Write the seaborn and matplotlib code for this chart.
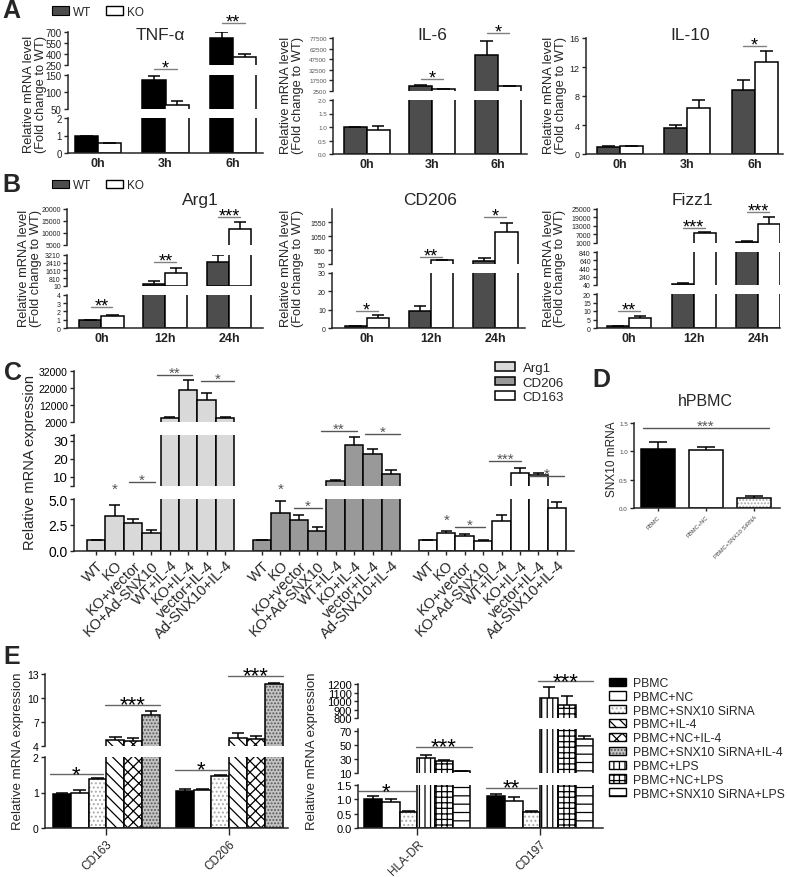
import numpy as np
import pandas as pd
import matplotlib
matplotlib.use('Agg')
import matplotlib.pyplot as plt
from matplotlib.patches import Patch
from matplotlib.colors import to_rgba
from matplotlib.transforms import blended_transform_factory
import seaborn as sns

# ---------------- data ----------------
times_a = ['0h', '3h', '6h']
times_b = ['0h', '12h', '24h']
genos = ['WT', 'KO']

# A: relative mRNA level (fold change to WT)
tnf_wt, tnf_wt_err = [1.0, 135, 620], [0.0, 12, 80]
tnf_ko, tnf_ko_err = [0.55, 62, 360], [0.03, 12, 45]
il6_wt, il6_wt_err = [1.0, 10000, 53800], [0.0, 1500, 19000]
il6_ko, il6_ko_err = [0.88, 4900, 9000], [0.17, 300, 1000]
il10_wt, il10_wt_err = [1.0, 3.6, 8.8], [0.05, 0.4, 1.4]
il10_ko, il10_ko_err = [1.05, 6.4, 12.7], [0.1, 1.0, 1.5]

# B
arg1_wt, arg1_wt_err = [1.0, 150, 2500], [0.0, 300, 700]
arg1_ko, arg1_ko_err = [1.5, 1330, 11800], [0.1, 520, 2600]
cd206_wt, cd206_wt_err = [1.0, 9.4, 170], [0.1, 2.4, 90]
cd206_ko, cd206_ko_err = [5.4, 180, 1200], [1.5, 15, 340]
fizz1_wt, fizz1_wt_err = [1.0, 70, 1900], [0.1, 30, 500]
fizz1_ko, fizz1_ko_err = [5.7, 7700, 14300], [1.2, 700, 5000]

# C
c_conds = ['WT', 'KO', 'KO+vector', 'KO+Ad-SNX10', 'WT+IL-4', 'KO+IL-4',
           'vector+IL-4', 'Ad-SNX10+IL-4']
c_genes = ['Arg1', 'CD206', 'CD163']
c_arg1 = [1.0, 3.33, 2.7, 1.7, 4200, 20600, 14900, 4300]
c_arg1_err = [0.0, 1.1, 0.35, 0.3, 600, 5900, 4000, 500]
c_cd206 = [1.0, 3.65, 2.95, 1.95, 7.6, 27.5, 22.8, 11.5]
c_cd206_err = [0.0, 1.15, 0.55, 0.3, 0.5, 4.5, 2.8, 2.0]
c_cd163 = [1.0, 1.7, 1.45, 0.97, 2.9, 12.0, 11.1, 4.1]
c_cd163_err = [0.0, 0.2, 0.15, 0.1, 0.6, 2.6, 0.9, 0.65]

# D
d_groups = ['PBMC', 'PBMC+NC', 'PBMC+SNX10 SiRNA']
d_vals = [1.05, 1.03, 0.17]
d_err = [0.11, 0.05, 0.04]

# E
e_conds = ['PBMC', 'PBMC+NC', 'PBMC+SNX10 SiRNA', 'PBMC+IL-4', 'PBMC+NC+IL-4',
           'PBMC+SNX10 SiRNA+IL-4', 'PBMC+LPS', 'PBMC+NC+LPS', 'PBMC+SNX10 SiRNA+LPS']
e_left_genes = ['CD163', 'CD206']
e_cd163, e_cd163_err = [0.96, 1.0, 1.38, 4.7, 4.6, 7.8], [0.03, 0.06, 0.02, 0.35, 0.35, 0.6]
e_cd206, e_cd206_err = [1.05, 1.07, 1.47, 4.95, 4.85, 11.8], [0.06, 0.03, 0.03, 0.7, 0.35, 0.1]
e_right_genes = ['HLA-DR', 'CD197']
e_hladr, e_hladr_err = [1.0, 0.9, 0.57, 31.5, 27.8, 12.8], [0.12, 0.1, 0.03, 4, 1.5, 0.5]
e_cd197, e_cd197_err = [1.1, 0.95, 0.57, 1040, 960, 58], [0.08, 0.13, 0.02, 120, 100, 5]

# ---------------- styles ----------------
c_colors = ['#d9d9d9', '#999999', 'white']
e_faces = ['black', 'white', 'white', 'white', 'white', '#c4c4c4', 'white', 'white', 'white']
e_hatches = ['', '', '....', '\\\\\\', 'xxx', '.....', '|||', '+++', '--']
e_hcolors = [None, None, '#aaaaaa', None, None, '#555555', None, None, None]

sns.set_style('ticks')
plt.rcParams['font.family'] = ['Liberation Sans', 'DejaVu Sans']
plt.rcParams['axes.linewidth'] = 1.1
plt.rcParams['hatch.linewidth'] = 0.9
plt.rcParams['xtick.major.width'] = 1.0
plt.rcParams['ytick.major.width'] = 1.0
plt.rcParams['xtick.major.size'] = 3
plt.rcParams['ytick.major.size'] = 3
plt.rcParams['xtick.major.pad'] = 2
plt.rcParams['ytick.major.pad'] = 1.5

W, H = 787, 878
fig = plt.figure(figsize=(W / 100, H / 100), dpi=100)


def px(x0, y0, x1, y1):
    return [x0 / W, 1 - y1 / H, (x1 - x0) / W, (y1 - y0) / H]


def ftext(x, y, s, **kw):
    fig.text(x / W, 1 - y / H, s, **kw)


def set_hatch_color(p, c):
    if hasattr(p, 'set_hatchcolor'):
        p.set_hatchcolor(c)
    else:
        p._hatch_color = to_rgba(c)


def add_err(ax, errs, lo, frac=0.28, lw=1.1):
    # upper error bars only; skip the ones lying wholly below this segment
    pats = sorted(ax.patches, key=lambda p: p.get_x())
    xs = np.array([p.get_x() + p.get_width() / 2 for p in pats])
    hs = np.array([p.get_height() for p in pats])
    cw = np.array([p.get_width() * frac for p in pats])
    tops = hs + np.asarray(errs)
    for p in pats:
        if p.get_height() < lo:
            p.set_visible(False)
    keep = tops >= lo
    if keep.any():
        ax.vlines(xs[keep], np.maximum(hs[keep], lo), tops[keep], color='black', lw=lw)
        ax.hlines(tops[keep], (xs - cw)[keep], (xs + cw)[keep], color='black', lw=lw)


def pair_draw(times, wt, wt_err, ko, ko_err, wt_color, width):
    df = pd.DataFrame({'time': list(times) * 2,
                       'geno': ['WT'] * len(times) + ['KO'] * len(times),
                       'val': list(wt) + list(ko)})
    errs = [e for pair in zip(wt_err, ko_err) for e in pair]

    def draw(ax, lo):
        sns.barplot(data=df, x='time', y='val', hue='geno', order=times, hue_order=genos,
                    palette={'WT': wt_color, 'KO': 'white'}, width=width, saturation=1,
                    errorbar=None, edgecolor='black', linewidth=1.1, legend=False, ax=ax)
        add_err(ax, errs, lo)
    return draw


def native_draw(pos, vals, errs, faces, hatches=None, hcolors=None, width=1.0, frac=0.3):
    keys = [f'b{i}' for i in range(len(pos))]
    df = pd.DataFrame({'pos': pos, 'val': vals, 'key': keys})
    order = np.argsort(pos)

    def draw(ax, lo):
        sns.barplot(data=df, x='pos', y='val', hue='key', hue_order=keys,
                    palette=dict(zip(keys, faces)), native_scale=True, dodge=False,
                    width=width, saturation=1, errorbar=None, edgecolor='black',
                    linewidth=1.1, legend=False, ax=ax)
        pats = sorted(ax.patches, key=lambda p: p.get_x())
        if hatches is not None:
            for p, i in zip(pats, order):
                p.set_hatch(hatches[i])
                if hcolors is not None and hcolors[i] is not None:
                    set_hatch_color(p, hcolors[i])
        add_err(ax, [errs[i] for i in order], lo, frac=frac)
    return draw


def broken(x0, x1, segs, draw, xlim, fs, color='#222222'):
    """segs: (top_px, bottom_px, lo, hi, ticks, labels) from top to bottom"""
    axes = []
    for i, (t, b, lo, hi, ticks, labels) in enumerate(segs):
        ax = fig.add_axes(px(x0, t, x1, b))
        draw(ax, lo)
        ax.set_ylim(lo, hi)
        ax.set_xlim(*xlim)
        ax.set_yticks(ticks)
        ax.set_yticklabels(labels, fontsize=fs, color=color)
        ax.set_xlabel('')
        ax.set_ylabel('')
        ax.patch.set_alpha(0)
        ax.spines['top'].set_visible(False)
        ax.spines['right'].set_visible(False)
        if i < len(segs) - 1:
            ax.spines['bottom'].set_visible(False)
            ax.tick_params(axis='x', bottom=False, labelbottom=False)
        axes.append(ax)
    return axes


def sig(ax, xa, xb, y_line, text, fs, lcolor='#808080', tcolor='black', gap=7,
        line=True, weight='normal'):
    tr = blended_transform_factory(ax.transData, fig.transFigure)
    if line:
        ax.plot([xa, xb], [1 - y_line / H] * 2, transform=tr, color=lcolor, lw=1.0,
                clip_on=False)
    base = y_line - gap + 0.58 * fs / 0.72
    ax.text((xa + xb) / 2, 1 - base / H, text, transform=tr, ha='center', va='baseline',
            fontsize=fs, color=tcolor, fontweight=weight, clip_on=False)


def time_axis(ax, labels):
    ax.set_xticks(range(len(labels)))
    ax.set_xticklabels(labels, fontsize=9, fontweight='bold', color='#222222')
    ax.tick_params(axis='x', length=0, pad=3)


# ================= Panel A =================
ylab_ab = 'Relative mRNA level\n(Fold change to WT)'
axs = broken(68, 263, [(33, 66, 250, 700, [250, 400, 550, 700], ['250', '400', '550', '700']),
                       (76, 110, 50, 150, [50, 100, 150], ['50', '100', '150']),
                       (119, 154, 0, 2, [0, 1, 2], ['0', '1', '2'])],
             pair_draw(times_a, tnf_wt, tnf_wt_err, tnf_ko, tnf_ko_err, 'black', 0.68),
             (-0.44, 2.44), 7)
time_axis(axs[-1], times_a)
sig(axs[-1], 0.83, 1.17, 70, '*', 13)
sig(axs[-1], 1.83, 2.17, 24, '**', 13)
ftext(160, 35, 'TNF-α', fontsize=12.5, ha='center', va='center')
ftext(35, 94, ylab_ab, rotation=90, ha='center', va='center', fontsize=9.3, linespacing=1.0)

il6_ticks = [2500, 17500, 32500, 47500, 62500, 77500]
axs = broken(333, 527, [(39, 92, 2500, 77500, il6_ticks, [str(t) for t in il6_ticks]),
                        (101, 155, 0, 2, [0, 0.5, 1, 1.5, 2], ['0.0', '0.5', '1.0', '1.5', '2.0'])],
             pair_draw(times_a, il6_wt, il6_wt_err, il6_ko, il6_ko_err, '#4d4d4d', 0.7),
             (-0.51, 2.44), 4.5, color='#555555')
time_axis(axs[-1], times_a)
sig(axs[-1], 0.83, 1.17, 80, '*', 13)
sig(axs[-1], 1.83, 2.17, 34, '*', 13)
ftext(432, 35, 'IL-6', fontsize=12.5, ha='center', va='center')
ftext(292, 95, ylab_ab, rotation=90, ha='center', va='center', fontsize=9.3, linespacing=1.0)

axs = broken(586, 783, [(39, 155, 0, 16, [0, 4, 8, 12, 16], ['0', '4', '8', '12', '16'])],
             pair_draw(times_a, il10_wt, il10_wt_err, il10_ko, il10_ko_err, '#4d4d4d', 0.68),
             (-0.5, 2.42), 6.5)
time_axis(axs[-1], times_a)
sig(axs[-1], 1.83, 2.17, 46.7, '*', 13)
ftext(690, 35, 'IL-10', fontsize=12.5, ha='center', va='center')
ftext(555, 95, ylab_ab, rotation=90, ha='center', va='center', fontsize=9.3, linespacing=1.0)

# ================= Panel B =================
axs = broken(67, 263, [(210, 245.7, 5000, 20000, [5000, 10000, 15000, 20000],
                        ['5000', '10000', '15000', '20000']),
                       (256, 286.7, 10, 3210, [10, 810, 1610, 2410, 3210],
                        ['10', '810', '1610', '2410', '3210']),
                       (295.7, 329, 0, 4, [0, 1, 2, 3, 4], ['0', '1', '2', '3', '4'])],
             pair_draw(times_b, arg1_wt, arg1_wt_err, arg1_ko, arg1_ko_err, '#4d4d4d', 0.69),
             (-0.54, 2.53), 5)
time_axis(axs[-1], times_b)
sig(axs[-1], -0.17, 0.17, 308.3, '**', 13)
sig(axs[-1], 0.83, 1.17, 263.3, '**', 13)
sig(axs[-1], 1.83, 2.17, 217.7, '***', 13)
ftext(200, 201, 'Arg1', fontsize=12.5, ha='center', va='center')
ftext(30, 268, ylab_ab, rotation=90, ha='center', va='center', fontsize=9.3, linespacing=1.0)

axs = broken(332, 525, [(210, 265, 50, 2030, [50, 550, 1050, 1550], ['50', '550', '1050', '1550']),
                        (274, 329, 0, 30, [0, 10, 20, 30], ['0', '10', '20', '30'])],
             pair_draw(times_b, cd206_wt, cd206_wt_err, cd206_ko, cd206_ko_err, '#4d4d4d', 0.69),
             (-0.54, 2.46), 5)
time_axis(axs[-1], times_b)
sig(axs[-1], -0.17, 0.17, 311.7, '*', 13)
sig(axs[-1], 0.83, 1.17, 258.3, '**', 13)
sig(axs[-1], 1.83, 2.17, 218.3, '*', 13)
ftext(430, 201, 'CD206', fontsize=12.5, ha='center', va='center')
ftext(292, 268, ylab_ab, rotation=90, ha='center', va='center', fontsize=9.3, linespacing=1.0)

fz_top = [1000, 7000, 13000, 19000, 25000]
fz_mid = [40, 240, 440, 640, 840]
axs = broken(597, 780, [(209.7, 244, 1000, 25000, fz_top, [str(t) for t in fz_top]),
                        (253.3, 286, 40, 840, fz_mid, [str(t) for t in fz_mid]),
                        (295, 329, 0, 20, [0, 5, 10, 15, 20], ['0', '5', '10', '15', '20'])],
             pair_draw(times_b, fizz1_wt, fizz1_wt_err, fizz1_ko, fizz1_ko_err, '#4d4d4d', 0.68),
             (-0.5, 2.34), 5)
time_axis(axs[-1], times_b)
sig(axs[-1], -0.17, 0.17, 311.7, '**', 13)
sig(axs[-1], 0.83, 1.17, 229, '***', 13)
sig(axs[-1], 1.83, 2.17, 213.3, '***', 13)
ftext(692, 201, 'Fizz1', fontsize=12.5, ha='center', va='center')
ftext(554.5, 268, ylab_ab, rotation=90, ha='center', va='center', fontsize=9.3, linespacing=1.0)

# legends A / B
for yc in (12.5, 186):
    fig.legend(handles=[Patch(facecolor='#4d4d4d', edgecolor='black', lw=0.8),
                        Patch(facecolor='white', edgecolor='black', lw=1.0)],
               labels=genos, ncol=2, frameon=False, loc='center left',
               bbox_to_anchor=(52 / W, 1 - yc / H), fontsize=8.5, handlelength=1.4,
               handleheight=0.7, handletextpad=0.35, columnspacing=1.3,
               borderpad=0, borderaxespad=0)

# ================= Panel C =================
c_pos = [g * 9 + j for g in range(3) for j in range(8)]
c_vals = c_arg1 + c_cd206 + c_cd163
c_errs = c_arg1_err + c_cd206_err + c_cd163_err
c_faces = [c_colors[g] for g in range(3) for j in range(8)]
axs = broken(74, 574, [(371.7, 422.7, 2000, 32000, [2000, 12000, 22000, 32000],
                        ['2000', '12000', '22000', '32000']),
                       (435.7, 486.7, 5, 33.3, [5, 10, 20, 30, 33.3], ['', '10', '20', '30', '']),
                       (500, 551.7, 0, 5, [0, 2.5, 5], ['0.0', '2.5', '5.0'])],
             native_draw(c_pos, c_vals, c_errs, c_faces, frac=0.3),
             (-1.2, 25.93), 7.5, color='black')
axs[1].tick_params(axis='y', labelsize=9.5)
axs[2].tick_params(axis='y', labelsize=10)
axs[-1].set_xticks(c_pos)
axs[-1].set_xticklabels(c_conds * 3, rotation=45, ha='right', rotation_mode='anchor',
                        fontsize=10.5)
for g in range(3):
    sig(axs[-1], g * 9 + 1, g * 9 + 1, [492, 491.7, 523][g], '*', 11, tcolor='#555555',
        line=False)
c_lines = [(1.8, 3.2, 483, '*'), (3.3, 5.2, 376, '**'), (5.7, 7.5, 382, '*'),
           (10.74, 12.26, 509.3, '*'), (12.19, 14.15, 431.7, '**'), (14.6, 16.5, 435, '*'),
           (19.48, 21.1, 527.7, '*'), (21.34, 23.05, 462.3, '***'), (23.48, 25.4, 476.7, '*')]
for xa, xb, yl, s in c_lines:
    sig(axs[-1], xa, xb, yl, s, 11, lcolor='#555555', tcolor='#555555')
ftext(30, 462, 'Relative mRNA expression', rotation=90, ha='center', va='center',
      fontsize=10.5)
fig.legend(handles=[Patch(facecolor=c, edgecolor='black', lw=1.1) for c in c_colors],
           labels=c_genes, frameon=False, loc='upper left',
           bbox_to_anchor=(495 / W, 1 - 363 / H), fontsize=9.5, handlelength=1.5,
           handleheight=0.6, labelspacing=0.2, handletextpad=0.6, borderpad=0,
           borderaxespad=0)

# ================= Panel D =================
d_pos = [0, 1, 2]
axs = broken(634, 780, [(424, 509, 0, 1.5, [0, 0.5, 1, 1.5], ['0.0', '0.5', '1.0', '1.5'])],
             native_draw(d_pos, d_vals, d_err, ['black', 'white', 'white'],
                         hatches=['', '', '.....'], hcolors=[None, None, '#aaaaaa'],
                         width=0.69, frac=0.28),
             (-0.5, 2.54), 4.5, color='#444444')
axs[0].set_xticks(d_pos)
axs[0].set_xticklabels(d_groups, rotation=45, ha='right', rotation_mode='anchor',
                       fontsize=4.2, color='#444444')
axs[0].tick_params(axis='x', length=2.5)
sig(axs[0], -0.32, 2.31, 429, '***', 11, lcolor='#555555', tcolor='#555555')
ftext(705, 402, 'hPBMC', fontsize=11.5, ha='center', va='center')
ftext(612, 459, 'SNX10 mRNA', rotation=90, ha='center', va='center', fontsize=8.5)

# ================= Panel E =================
e_left_idx = [0, 1, 2, 3, 4, 5]
e_right_idx = [0, 1, 2, 6, 7, 8]

pos_l = [g * 6.9 + j for g in range(2) for j in range(6)]
axs = broken(45, 288, [(675, 746.7, 4, 13, [4, 7, 10, 13], ['4', '7', '10', '13']),
                       (757.7, 829.3, 0, 2, [0, 1, 2], ['0', '1', '2'])],
             native_draw(pos_l, e_cd163 + e_cd206, e_cd163_err + e_cd206_err,
                         [e_faces[i] for i in e_left_idx] * 2,
                         hatches=[e_hatches[i] for i in e_left_idx] * 2,
                         hcolors=[e_hcolors[i] for i in e_left_idx] * 2, frac=0.35),
             (-0.95, 12.7), 7.5, color='black')
axs[-1].set_xticks([2.5, 9.4])
axs[-1].set_xticklabels(e_left_genes, rotation=45, ha='right', rotation_mode='anchor',
                        fontsize=8.5)
axs[-1].tick_params(axis='x', length=5, pad=1.5)
for xa, xb, yl, s in [(-0.67, 2.31, 775, '*'), (2.42, 5.51, 705.7, '***'),
                      (6.35, 9.33, 770.7, '*'), (9.33, 12.4, 676.7, '***')]:
    sig(axs[-1], xa, xb, yl, s, 16, lcolor='#666666')
ftext(18, 751, 'Relative mRNA expression', rotation=90, ha='center', va='center',
      fontsize=9.5)

pos_r = [g * 6.95 + j for g in range(2) for j in range(6)]
e_r_top = [800, 900, 1000, 1100, 1200]
axs = broken(358, 602.7, [(685, 719.3, 800, 1200, e_r_top, [str(t) for t in e_r_top]),
                          (730, 774.3, 10, 72.4, [10, 30, 50, 70], ['10', '30', '50', '70']),
                          (785.7, 829.3, 0, 1.5, [0, 0.5, 1, 1.5], ['0.0', '0.5', '1.0', '1.5'])],
             native_draw(pos_r, e_hladr + e_cd197, e_hladr_err + e_cd197_err,
                         [e_faces[i] for i in e_right_idx] * 2,
                         hatches=[e_hatches[i] for i in e_right_idx] * 2,
                         hcolors=[e_hcolors[i] for i in e_right_idx] * 2, frac=0.35),
             (-0.86, 12.98), 8, color='black')
axs[-1].set_xticks([2.5, 9.45])
axs[-1].set_xticklabels(e_right_genes, rotation=45, ha='right', rotation_mode='anchor',
                        fontsize=8.5)
axs[-1].tick_params(axis='x', length=5, pad=1.5)
for xa, xb, yl, s in [(-0.86, 2.36, 792.3, '*'), (2.42, 5.57, 747.7, '***'),
                      (6.38, 9.27, 788.7, '**'), (9.33, 12.44, 682.3, '***')]:
    sig(axs[-1], xa, xb, yl, s, 16, lcolor='#666666')
ftext(312, 751, 'Relative mRNA expression', rotation=90, ha='center', va='center',
      fontsize=9.5)

e_handles = []
for f, h, hc in zip(e_faces, e_hatches, e_hcolors):
    p = Patch(facecolor=f, edgecolor='black', hatch=h, lw=1.0)
    if hc is not None:
        set_hatch_color(p, hc)
    e_handles.append(p)
fig.legend(handles=e_handles, labels=e_conds, frameon=False, loc='upper left',
           bbox_to_anchor=(609 / W, 1 - 678 / H), fontsize=8.8, handlelength=1.4,
           handleheight=0.65, labelspacing=0.15, handletextpad=0.6, borderpad=0,
           borderaxespad=0)

# panel letters
for letter, (lx, ly) in zip('ABCDE', [(11, 11), (11, 185), (13, 373), (601, 380), (12, 657)]):
    ftext(lx, ly, letter, fontsize=18, fontweight='bold', ha='center', va='center')

fig.savefig('out.png', dpi=100)
